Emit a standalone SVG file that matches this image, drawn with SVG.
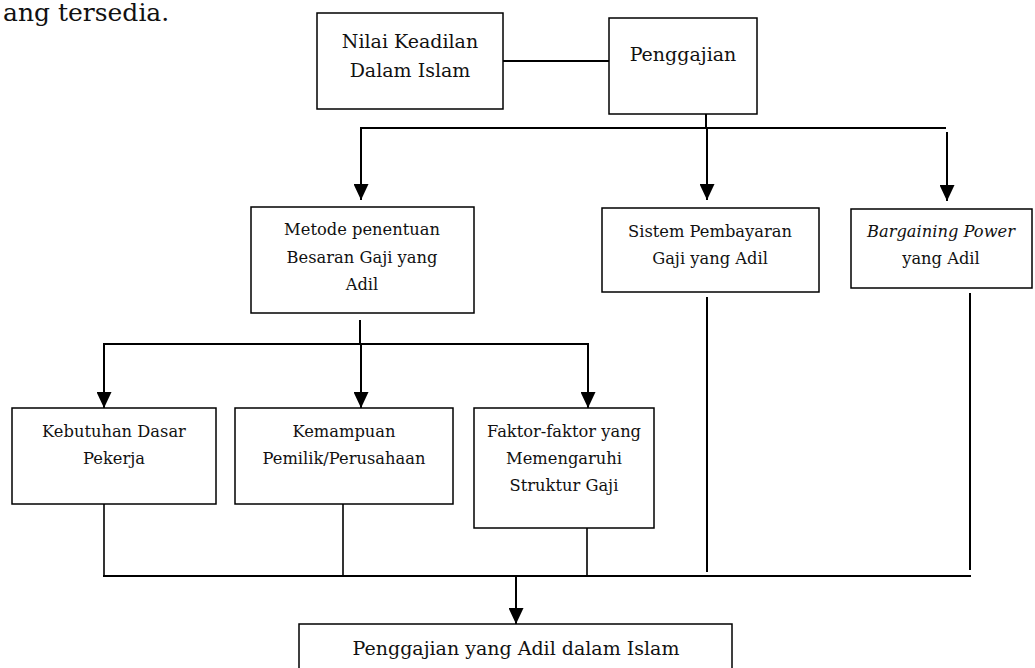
<svg xmlns="http://www.w3.org/2000/svg" width="1035" height="668" viewBox="0 0 1035 668">
<style>
.box{fill:#fff;stroke:#000;stroke-width:1.5}
.t{font-family:"DejaVu Serif","Liberation Serif",serif;font-size:16.3px;fill:#111;text-anchor:middle}
.h{font-size:19px}
.c{fill:none;stroke:#000;stroke-width:2}
.c2{fill:none;stroke:#000;stroke-width:1.6}
</style>
<defs>
<marker id="ah" markerUnits="userSpaceOnUse" markerWidth="16" markerHeight="15" refX="16" refY="7.5" orient="auto">
<path d="M0,0 L16,7.5 L0,15 z" fill="#000"/>
</marker>
</defs>
<rect width="1035" height="668" fill="#fff"/>
<text x="3" y="21" style="font-family:'DejaVu Serif','Liberation Serif',serif;font-size:25px;fill:#111">ang tersedia.</text>

<g id="connectors">
<line class="c" x1="503" y1="61" x2="609" y2="61"/>
<line class="c" x1="706" y1="114" x2="706" y2="128"/>
<line class="c" x1="360" y1="128" x2="946" y2="128"/>
<line class="c" x1="361" y1="128" x2="361" y2="200" marker-end="url(#ah)"/>
<line class="c" x1="707" y1="128" x2="707" y2="200" marker-end="url(#ah)"/>
<line class="c" x1="947" y1="132" x2="947" y2="201" marker-end="url(#ah)"/>
<line class="c" x1="360" y1="320" x2="360" y2="344"/>
<line class="c" x1="103" y1="344" x2="589" y2="344"/>
<line class="c" x1="104" y1="344" x2="104" y2="408" marker-end="url(#ah)"/>
<line class="c" x1="361" y1="344" x2="361" y2="408" marker-end="url(#ah)"/>
<line class="c" x1="588" y1="344" x2="588" y2="408" marker-end="url(#ah)"/>
<line class="c" x1="707" y1="297" x2="707" y2="572"/>
<line class="c" x1="970" y1="293" x2="970" y2="570"/>
<line class="c2" x1="104" y1="504" x2="104" y2="576"/>
<line class="c2" x1="343" y1="504" x2="343" y2="576"/>
<line class="c2" x1="587" y1="528" x2="587" y2="576"/>
<line class="c" x1="103" y1="576" x2="971" y2="576"/>
<line class="c" x1="516" y1="576" x2="516" y2="624" marker-end="url(#ah)"/>
</g>

<g id="nilai">
<rect class="box" x="317" y="13" width="186" height="96"/>
<text class="t h" x="410" y="48">Nilai Keadilan</text>
<text class="t h" x="410" y="77">Dalam Islam</text>
</g>
<g id="penggajian">
<rect class="box" x="609" y="18" width="148" height="96"/>
<text class="t h" x="683" y="61">Penggajian</text>
</g>
<g id="metode">
<rect class="box" x="251" y="207" width="223" height="106"/>
<text class="t" x="362" y="235">Metode penentuan</text>
<text class="t" x="362" y="263">Besaran Gaji yang</text>
<text class="t" x="362" y="290">Adil</text>
</g>
<g id="sistem">
<rect class="box" x="602" y="208" width="217" height="84"/>
<text class="t" x="710" y="237">Sistem Pembayaran</text>
<text class="t" x="710" y="264">Gaji yang Adil</text>
</g>
<g id="bargaining">
<rect class="box" x="851" y="209" width="181" height="79"/>
<text class="t" x="941" y="237" font-style="italic">Bargaining Power</text>
<text class="t" x="941" y="264">yang Adil</text>
</g>
<g id="kebutuhan">
<rect class="box" x="12" y="408" width="204" height="96"/>
<text class="t" x="114" y="437">Kebutuhan Dasar</text>
<text class="t" x="114" y="464">Pekerja</text>
</g>
<g id="kemampuan">
<rect class="box" x="235" y="408" width="218" height="96"/>
<text class="t" x="344" y="437">Kemampuan</text>
<text class="t" x="344" y="464">Pemilik/Perusahaan</text>
</g>
<g id="faktor">
<rect class="box" x="474" y="408" width="180" height="120"/>
<text class="t" x="564" y="437">Faktor-faktor yang</text>
<text class="t" x="564" y="464">Memengaruhi</text>
<text class="t" x="564" y="491">Struktur Gaji</text>
</g>
<g id="hasil">
<rect class="box" x="299" y="624" width="433" height="60"/>
<text class="t h" x="516" y="655">Penggajian yang Adil dalam Islam</text>
</g>
</svg>
